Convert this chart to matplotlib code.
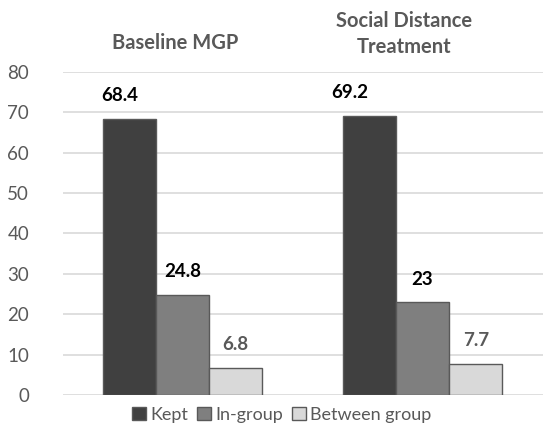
import matplotlib
matplotlib.use("Agg")
import matplotlib.pyplot as plt
from matplotlib.patches import Patch
import numpy as np

groups = ["Baseline MGP", "Social Distance\nTreatment"]
series = ["Kept", "In-group", "Between group"]
kept = [68.4, 69.2]
ingroup = [24.8, 23]
between = [6.8, 7.7]
yticks = [0, 10, 20, 30, 40, 50, 60, 70, 80]

colors = ["#404040", "#7f7f7f", "#d9d9d9"]
label_colors = ["#000000", "#000000", "#595959"]
FONT = ["Lato", "DejaVu Sans"]
plt.rcParams["font.family"] = FONT

fig = plt.figure(figsize=(5.47, 4.38), dpi=100)
W, H = 547, 438
ax = fig.add_axes([62.5 / W, (H - 395) / H, 480 / W, 323 / H])

x = np.arange(len(groups))
bw = 0.222
data = [kept, ingroup, between]
# label x-offsets in points per series per group (Kept labels shifted left in reference)
xoffs = [[-7, -14], [0, 0], [0, 0]]
for i, vals in enumerate(data):
    pos = x + (i - 1) * bw
    ax.bar(pos, vals, width=bw, color=colors[i], edgecolor="#595959", linewidth=1.0, zorder=3)
    for j, (p, v) in enumerate(zip(pos, vals)):
        ax.annotate(f"{v:g}", (p, v), xytext=(xoffs[i][j], 16.5), textcoords="offset points",
                    ha="center", va="center", fontsize=13.5, fontweight="bold",
                    color=label_colors[i])

ax.set_xlim(-0.5, 1.5)
ax.set_ylim(0, 80)
ax.set_yticks(yticks)
ax.set_yticklabels([str(t) for t in yticks], fontsize=13.5, color="#595959")
ax.tick_params(axis="y", length=0, pad=24)
ax.set_xticks([])
ax.grid(axis="y", color="#d9d9d9", linewidth=1.2, zorder=0)
for s in ax.spines.values():
    s.set_visible(False)

# group titles
fig.text(175 / W, 1 - 43 / H, groups[0], ha="center", va="center", fontsize=14.5,
         fontweight="bold", color="#595959")
fig.text(404 / W, 1 - 34 / H, groups[1], ha="center", va="center", fontsize=14.5,
         fontweight="bold", color="#595959", linespacing=1.4)

handles = [Patch(facecolor=c, edgecolor="#595959", linewidth=1.0) for c in colors]
fig.legend(handles, series, loc="center", bbox_to_anchor=(282 / W, 1 - 415 / H), ncol=3,
           frameon=False, fontsize=13, handlelength=0.75, handleheight=0.75,
           handletextpad=0.25, columnspacing=0.5, labelcolor="#595959")

fig.savefig("out.png", dpi=100)
